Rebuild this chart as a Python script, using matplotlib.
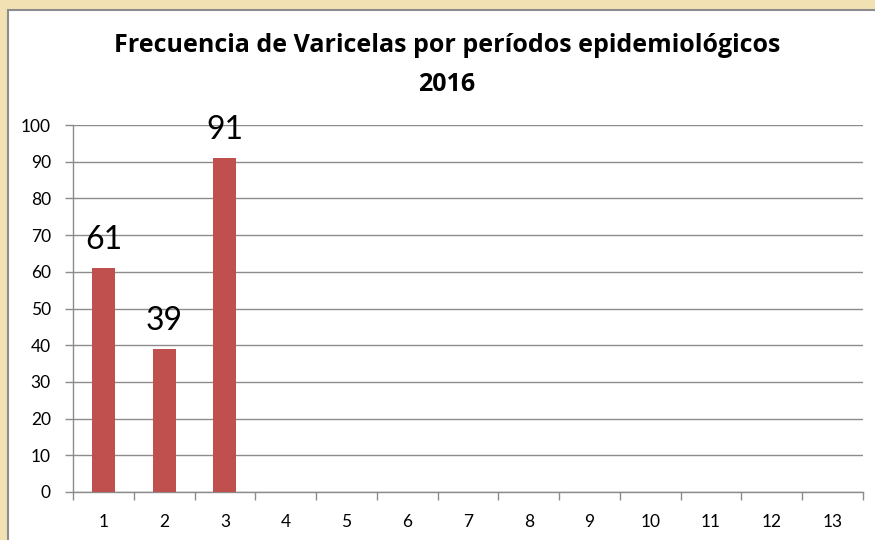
import matplotlib
matplotlib.use("Agg")
import matplotlib.pyplot as plt
from matplotlib.patches import Rectangle

periods = list(range(1, 14))
values = [61, 39, 91, None, None, None, None, None, None, None, None, None, None]
yticks = [0, 10, 20, 30, 40, 50, 60, 70, 80, 90, 100]
title = "Frecuencia de Varicelas por períodos epidemiológicos\n2016"

plt.rcParams['font.family'] = ['Lato', 'DejaVu Sans']

W, H = 875, 540
fig = plt.figure(figsize=(W / 100, H / 100), dpi=100)
fig.patch.set_facecolor('#F2E1B2')
fig.patches.append(Rectangle((8 / W, -0.01), 1.1, 1 - 10 / H + 0.01, transform=fig.transFigure,
                             facecolor='white', edgecolor='#8C8C8C', linewidth=1.5, zorder=-5))

ax = fig.add_axes([73 / W, 1 - 492 / H, (863 - 73) / W, (492 - 125) / H])
ax.set_facecolor('white')
xs = [p for p, v in zip(periods, values) if v is not None]
vs = [v for v in values if v is not None]
ax.bar(xs, vs, width=0.38, color='#C0504D', zorder=3)
for x, v in zip(xs, vs):
    ax.annotate(str(v), (x, v), xytext=(0, 13.5), textcoords='offset points',
                ha='center', va='baseline', fontsize=23, color='black', zorder=4)

ax.set_xlim(0.5, 13.5)
ax.set_ylim(0, 100)
ax.set_yticks(yticks)
ax.set_yticklabels([str(t) for t in yticks], fontsize=12.5)
ax.set_xticks(periods)
ax.set_xticklabels([str(p) for p in periods], fontsize=12.5)
ax.set_xticks([p + 0.5 for p in [0] + periods], minor=True)
ax.tick_params(axis='x', which='major', length=0, pad=16)
ax.tick_params(axis='x', which='minor', length=6, color='#8C8C8C', width=1)
ax.tick_params(axis='y', length=6, color='#8C8C8C', width=1, pad=10)
ax.grid(axis='y', color='#8C8C8C', linewidth=1, zorder=0)
for s in ['top', 'right']:
    ax.spines[s].set_visible(False)
for s in ['left', 'bottom']:
    ax.spines[s].set_color('#8C8C8C')
    ax.spines[s].set_linewidth(1)

fig.text(447 / W, 1 - 65 / H, title, ha='center', va='center', fontsize=18,
         fontweight='bold', linespacing=1.75, family=['Open Sans', 'DejaVu Sans'])

fig.savefig('out.png', dpi=100, facecolor=fig.get_facecolor())
